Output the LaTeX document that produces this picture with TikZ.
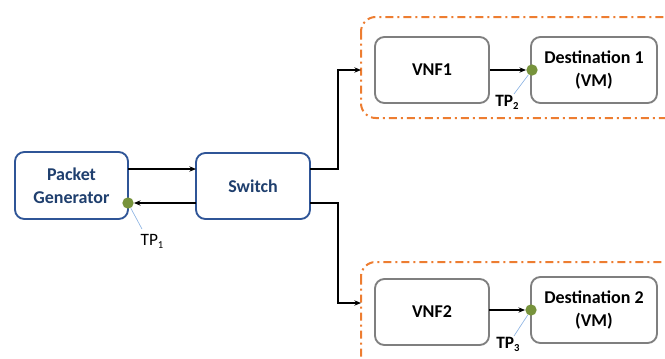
\documentclass[tikz,border=0pt]{standalone}
\usepackage{fontspec}
\setmainfont{Carlito}
\usetikzlibrary{arrows.meta}
\definecolor{bluebd}{HTML}{2F5597}
\definecolor{bluetx}{HTML}{1F3F6E}
\definecolor{graybd}{HTML}{7F7F7F}
\definecolor{tpgreen}{HTML}{77933C}
\definecolor{orng}{HTML}{ED7D31}
\definecolor{tpline}{HTML}{8EB4E3}
\newcommand{\tpsub}[1]{\raisebox{-0.35ex}{\fontsize{8}{9}\selectfont #1}}
\tikzset{
  bluebox/.style={draw=bluebd, line width=1.4pt, rounded corners=7pt, fill=white, font=\bfseries\fontsize{13.5}{17}\selectfont, text=bluetx, align=center},
  graybox/.style={draw=graybd, line width=1.4pt, rounded corners=7pt, fill=white, font=\bfseries\fontsize{13.5}{17}\selectfont, text=black, align=center},
  grp/.style={draw=orng, line width=1.5pt, rounded corners=11pt, dash pattern=on 6pt off 3pt on 1.5pt off 3pt},
  conn/.style={-{Stealth[length=5pt,width=4pt]}, line width=0.8pt},
  tpdot/.style={circle, fill=tpgreen, inner sep=0pt, minimum size=8.5pt},
  tplab/.style={font=\fontsize{13}{15}\selectfont, inner sep=1pt},
  tplabb/.style={font=\bfseries\fontsize{13}{15}\selectfont, inner sep=1pt},
  tpl/.style={draw=tpline, line width=0.5pt}
}
\begin{document}
\begin{tikzpicture}[x=0.75pt,y=-0.75pt]
\useasboundingbox (0,0) rectangle (665,358);
\clip (0,0) rectangle (665,358);
% groups
\draw[grp] (361,17) rectangle (680,118);
\draw[grp] (361,262) rectangle (680,380);
% nodes
\node[bluebox, minimum width=113*0.75pt, minimum height=67*0.75pt] (pg) at (71.5,185.5) {Packet\\Generator};
\node[bluebox, minimum width=114*0.75pt, minimum height=66*0.75pt] (sw) at (253,186) {Switch};
\node[graybox, minimum width=114*0.75pt, minimum height=66*0.75pt] (vnf1) at (432,70) {VNF1};
\node[graybox, minimum width=126*0.75pt, minimum height=66*0.75pt] (d1) at (594,70) {Destination 1\\(VM)};
\node[graybox, minimum width=114*0.75pt, minimum height=66*0.75pt] (vnf2) at (432,312) {VNF2};
\node[graybox, minimum width=126*0.75pt, minimum height=66*0.75pt] (d2) at (594,310) {Destination 2\\(VM)};
% coordinates
\coordinate (g1) at (361,70);
\coordinate (g2) at (361,303);
\coordinate (sa) at (310,169);
\coordinate (sb) at (310,203);
\coordinate (pa) at (128,169);
\coordinate (swa) at (196,169);
\coordinate (swb) at (196,203);
% test points
\node[tpdot] (tp1) at (128,203) {};
\node[tpdot] (tp2) at (532,70) {};
\node[tpdot] (tp3) at (531,310) {};
\node[tplab] (l1) at (152,241) {TP\tpsub{1}};
\node[tplabb] (l2) at (507,102) {TP\tpsub{2}};
\node[tplabb] (l3) at (508,344) {TP\tpsub{3}};
\draw[tpl] (tp1) -- (142,229);
\draw[tpl] (tp2) -- (514,94);
\draw[tpl] (tp3) -- (514,336);
% connectors
\draw[conn] (pa) -- (swa);
\draw[conn] (swb) -- (tp1);
\draw[conn] (sa) -- (338,169) -- (338,70) -- (g1);
\draw[conn] (sb) -- (338,203) -- (338,303) -- (g2);
\draw[conn] (vnf1.east) -- (tp2);
\draw[conn] (489,310) -- (tp3);
\end{tikzpicture}
\end{document}
